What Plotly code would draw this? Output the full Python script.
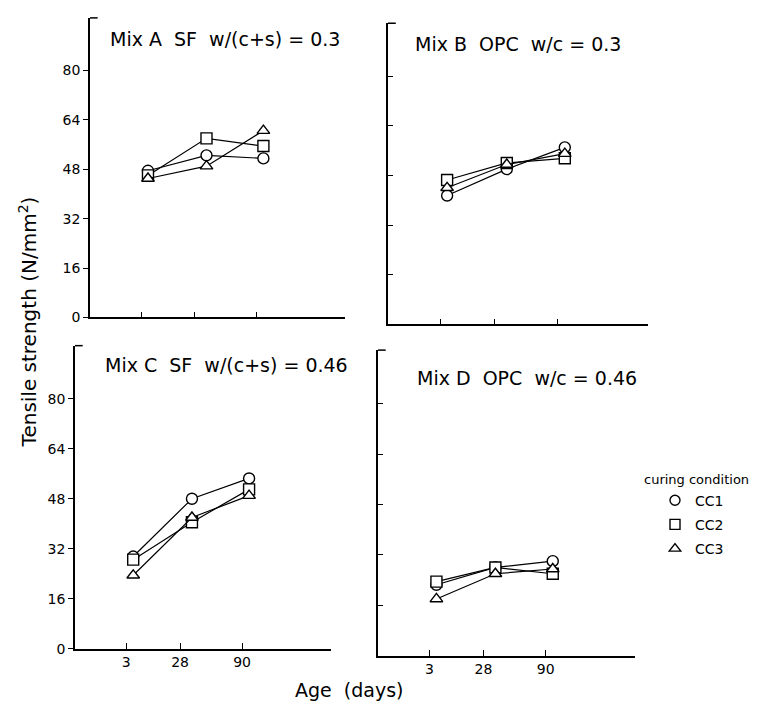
import plotly.graph_objects as go

# ---- data ----
age_labels = ["3", "28", "90"]
age_tick_pos = [1, 2, 3.15]
age_point_pos = [1.13, 2.22, 3.28]
y_ticks = [0, 16, 32, 48, 64, 80]

conditions = ["CC1", "CC2", "CC3"]
symbols = ["circle", "square", "triangle-up"]

mixA_cc1 = [47.5, 52.5, 51.5]
mixA_cc2 = [46.0, 58.0, 55.5]
mixA_cc3 = [45.0, 49.0, 60.5]

mixB_cc1 = [41.5, 50.0, 57.0]
mixB_cc2 = [46.5, 52.0, 53.5]
mixB_cc3 = [44.0, 51.5, 55.0]

mixC_cc1 = [29.5, 48.0, 54.5]
mixC_cc2 = [28.5, 40.5, 51.0]
mixC_cc3 = [23.5, 42.0, 49.0]

mixD_cc1 = [22.5, 28.0, 30.0]
mixD_cc2 = [23.5, 28.0, 26.0]
mixD_cc3 = [18.0, 26.0, 27.5]

panel_titles = ["Mix A  SF  w/(c+s) = 0.3", "Mix B  OPC  w/c = 0.3",
                "Mix C  SF  w/(c+s) = 0.46", "Mix D  OPC  w/c = 0.46"]

panels = [
    [mixA_cc1, mixA_cc2, mixA_cc3],
    [mixB_cc1, mixB_cc2, mixB_cc3],
    [mixC_cc1, mixC_cc2, mixC_cc3],
    [mixD_cc1, mixD_cc2, mixD_cc3],
]

FONT = "DejaVu Sans"
W, H = 758, 711

# panel geometry (pixels): x-left, x-right, y of zero, y of top
geom = [
    (82, 337, 313, 10),
    (380, 640, 320, 15.4),
    (67, 323, 648, 341.5),
    (370, 627, 655, 346),
]
title_pos = [(100, 31), (405, 36), (95, 361), (407, 374)]

fig = go.Figure()

for i, series in enumerate(panels):
    xa = "x" if i == 0 else f"x{i+1}"
    ya = "y" if i == 0 else f"y{i+1}"
    for j, vals in enumerate(series):
        fig.add_trace(go.Scatter(
            x=age_point_pos, y=vals, xaxis=xa, yaxis=ya,
            mode="lines+markers", showlegend=False,
            line=dict(color="black", width=1.2),
            marker=dict(symbol=symbols[j], size=11, color="white",
                        line=dict(color="black", width=1.4)),
            name=conditions[j],
        ))

# legend-only entries
for j, c in enumerate(conditions):
    fig.add_trace(go.Scatter(
        x=[None], y=[None], mode="markers", name=c, legendgroup=c,
        marker=dict(symbol=symbols[j], size=10, color="white",
                    line=dict(color="black", width=1.4)),
    ))

layout = dict(
    width=W, height=H, margin=dict(l=0, r=0, t=0, b=0),
    paper_bgcolor="white", plot_bgcolor="white",
    font=dict(family=FONT, color="black", size=14),
    legend=dict(x=647 / W, y=1 - 482 / H, xanchor="left", yanchor="top",
                bgcolor="rgba(0,0,0,0)", borderwidth=0,
                font=dict(size=14, family=FONT), tracegroupgap=3,
                itemwidth=30),
)

shapes = []
annotations = []
for i, (xl, xr, y0, yt) in enumerate(geom):
    xk = "xaxis" if i == 0 else f"xaxis{i+1}"
    yk = "yaxis" if i == 0 else f"yaxis{i+1}"
    xa = "x" if i == 0 else f"x{i+1}"
    ya = "y" if i == 0 else f"y{i+1}"
    bottom = i >= 2
    left = i % 2 == 0
    layout[xk] = dict(
        domain=[xl / W, xr / W], range=[0.05, 4.8], anchor=ya,
        showline=True, linecolor="black", linewidth=1.5,
        showgrid=False, zeroline=False,
        tickmode="array", tickvals=age_tick_pos, ticktext=age_labels,
        showticklabels=bottom,
        ticks="inside", ticklen=6, tickwidth=1.3, tickcolor="black",
        tickfont=dict(size=14, family=FONT), fixedrange=True,
    )
    layout[yk] = dict(
        domain=[1 - y0 / H, 1 - yt / H], range=[0, 97], anchor=xa,
        showline=True, linecolor="black", linewidth=1.5,
        showgrid=False, zeroline=False,
        tickmode="array", tickvals=y_ticks,
        ticktext=[str(v) for v in y_ticks], showticklabels=left,
        ticks="outside" if left else "inside", ticklen=5, tickwidth=1.3,
        tickcolor="black", tickfont=dict(size=14, family=FONT),
        fixedrange=True,
    )
    # small hook at the top of each y axis
    shapes.append(dict(type="line", xref=f"{xa} domain", yref=f"{ya} domain",
                       x0=0, x1=0.03, y0=1, y1=1,
                       line=dict(color="black", width=1.5)))
    tx, ty = title_pos[i]
    annotations.append(dict(text=panel_titles[i], xref="paper", yref="paper",
                            x=tx / W, y=1 - ty / H, xanchor="left",
                            yanchor="middle", showarrow=False,
                            font=dict(size=19, family=FONT)))

annotations.append(dict(text="Tensile strength (N/mm<sup>2</sup>)",
                        xref="paper", yref="paper", x=20 / W, y=1 - 318 / H,
                        textangle=-90, showarrow=False, xanchor="center",
                        yanchor="middle", font=dict(size=20, family=FONT)))
annotations.append(dict(text="Age  (days)", xref="paper", yref="paper",
                        x=341 / W, y=1 - 690 / H, showarrow=False,
                        xanchor="center", yanchor="middle",
                        font=dict(size=19, family=FONT)))
annotations.append(dict(text="curing condition", xref="paper", yref="paper",
                        x=634 / W, y=1 - 477 / H, showarrow=False,
                        xanchor="left", yanchor="middle",
                        font=dict(size=13, family=FONT)))

layout["shapes"] = shapes
layout["annotations"] = annotations
fig.update_layout(**layout)

fig.write_html("out.html")
